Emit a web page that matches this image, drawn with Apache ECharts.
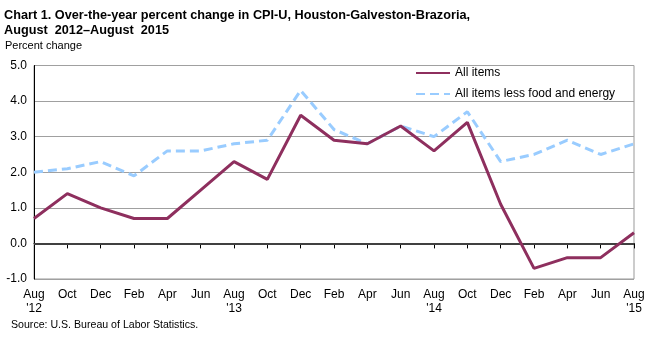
<!DOCTYPE html>
<html>
<head>
<meta charset="utf-8">
<script src="https://cdn.jsdelivr.net/npm/echarts@6/dist/echarts.min.js"></script>
<style>
  html, body { margin: 0; padding: 0; background: #fff; }
  #chart { width: 654px; height: 337px; }
</style>
</head>
<body>
<div id="chart"></div>
<script>
// Bimonthly periods, August 2012 through August 2015
const months = ['Aug','Oct','Dec','Feb','Apr','Jun','Aug','Oct','Dec','Feb','Apr','Jun','Aug','Oct','Dec','Feb','Apr','Jun','Aug'];
const yearMarks = ["'12",'','','','','',"'13",'','','','','',"'14",'','','','','',"'15"];

// Over-the-year percent change
const allItems = [0.7, 1.4, 1.0, 0.7, 0.7, 1.5, 2.3, 1.8, 3.6, 2.9, 2.8, 3.3, 2.6, 3.4, 1.1, -0.7, -0.4, -0.4, 0.3];
const coreItems = [2.0, 2.1, 2.3, 1.9, 2.6, 2.6, 2.8, 2.9, 4.3, 3.2, 2.8, 3.3, 3.0, 3.7, 2.3, 2.5, 2.9, 2.5, 2.8];

const yTicks = [-1.0, 0.0, 1.0, 2.0, 3.0, 4.0, 5.0];

const categories = months.map((m, i) => yearMarks[i] ? m + '\n' + yearMarks[i] : m);

const font = 'Liberation Sans, Arial, sans-serif';
const chart = echarts.init(document.getElementById('chart'));

chart.setOption({
  animation: false,
  backgroundColor: '#fff',
  textStyle: { fontFamily: font },
  title: [
    {
      text: 'Chart 1. Over-the-year percent change in CPI-U, Houston-Galveston-Brazoria,\nAugust  2012\u2013August  2015',
      left: 4, top: 8, padding: 0,
      textStyle: { fontFamily: font, fontSize: 12.7, fontWeight: 'bold', color: '#000', lineHeight: 15 }
    },
    {
      text: 'Percent change',
      left: 5, top: 40, padding: 0,
      textStyle: { fontFamily: font, fontSize: 11, fontWeight: 'normal', color: '#000' }
    },
    {
      text: 'Source: U.S. Bureau of Labor Statistics.',
      left: 11, top: 320, padding: 0,
      textStyle: { fontFamily: font, fontSize: 10.6, fontWeight: 'normal', color: '#000' }
    }
  ],
  legend: {
    orient: 'vertical',
    left: 415, top: 67, padding: 0,
    itemWidth: 34, itemHeight: 10, itemGap: 9,
    itemStyle: { opacity: 0 },
    textStyle: { fontFamily: font, fontSize: 12, color: '#000' },
    data: ['All items', 'All items less food and energy']
  },
  grid: {
    left: 34, right: 20, top: 65.5, bottom: 58,
    show: true, borderColor: '#999', borderWidth: 1
  },
  xAxis: {
    type: 'category',
    data: categories,
    boundaryGap: false,
    axisLine: { lineStyle: { color: '#000', width: 1 } },
    axisTick: { show: true, length: 5, lineStyle: { color: '#000' } },
    axisLabel: { color: '#000', fontSize: 12, fontFamily: font, margin: 9, lineHeight: 14, interval: 0 },
    splitLine: { show: false }
  },
  yAxis: {
    type: 'value',
    min: yTicks[0], max: yTicks[yTicks.length - 1], interval: 1,
    axisLine: { show: true, lineStyle: { color: '#000', width: 1 } },
    axisTick: { show: false },
    axisLabel: { color: '#000', fontSize: 12, fontFamily: font, margin: 7, formatter: v => v.toFixed(1) },
    splitLine: { show: true, lineStyle: { color: '#a0a0a0', width: 1 } }
  },
  series: [
    {
      name: 'All items',
      type: 'line',
      data: allItems,
      symbol: 'none',
      z: 4,
      lineStyle: { color: '#8e2f5e', width: 3 },
      itemStyle: { color: '#8e2f5e' },
      markLine: {
        silent: true,
        symbol: 'none',
        label: { show: false },
        lineStyle: { color: '#404040', width: 2, type: 'solid' },
        data: [{ yAxis: 0 }],
        z: 2
      }
    },
    {
      name: 'All items less food and energy',
      type: 'line',
      data: coreItems,
      symbol: 'none',
      z: 3,
      lineStyle: { color: '#99ccff', width: 3, type: [9, 5] },
      itemStyle: { color: '#99ccff' }
    }
  ]
});
</script>
</body>
</html>
